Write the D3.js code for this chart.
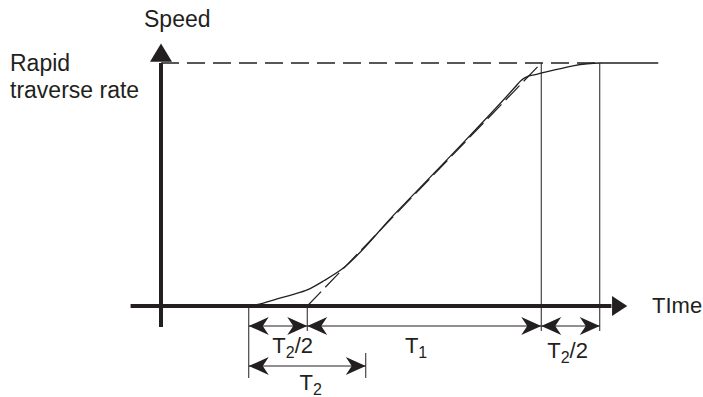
<!DOCTYPE html>
<html>
<head>
<meta charset="utf-8">
<title>Rapid traverse acceleration</title>
<script src="https://cdn.jsdelivr.net/npm/d3@7"></script>
<style>
  body { margin: 0; background: #fff; }
  svg { display: block; }
  text { font-family: "Liberation Sans", Arial, Helvetica, sans-serif; fill: #231f20; }
  .axis { stroke: #231f20; stroke-width: 4; }
  .thin { stroke: #231f20; stroke-width: 1; fill: none; }
  .curve { stroke: #231f20; stroke-width: 1.3; fill: none; }
  .dash { stroke: #231f20; stroke-width: 1.4; fill: none; stroke-dasharray: 18 8; }
  .head { fill: #231f20; }
</style>
</head>
<body>
<svg width="703" height="397"></svg>
<script>
// time in units of T2/2, speed as fraction of rapid traverse rate
var timeMarks = [6.5, 7.5];              // vertical guide lines up to rapid level
var idealRamp = [[2.5, 0], [6.5, 1]];    // linear acceleration (dashed)
var rapidLevel = [[0, 1], [7.5, 1]];     // rapid traverse rate (dashed)
var sCurve = [[1.5, 0], [1.75, 0.012], [2.0, 0.03], [2.25, 0.047], [2.5, 0.066],
              [2.8, 0.106], [3.1, 0.153], [4.0, 0.38], [5.0, 0.63], [6.05, 0.9],
              [6.15, 0.927], [6.25, 0.943], [6.4, 0.952], [7.5, 1], [8.5, 1]];
// extension lines below the axis: time, top px, bottom px
var extLines = [[1.5, 306, 378], [2.5, 306, 331], [3.5, 353, 378]];
// dimension arrows: from, to, row
var dims = [
  { from: 1.5, to: 2.5, row: 0 },
  { from: 2.5, to: 6.5, row: 0 },
  { from: 6.5, to: 7.5, row: 0 },
  { from: 1.5, to: 3.5, row: 1 }
];
// labels: main letter, subscript, suffix, centre time, baseline speed
var labels = [
  { main: "T", sub: "2", rest: "/2", t: 2.25, v: -0.194 },
  { main: "T", sub: "1", rest: "",   t: 4.36, v: -0.194 },
  { main: "T", sub: "2", rest: "",   t: 2.56, v: -0.346 },
  { main: "T", sub: "2", rest: "/2", t: 6.95, v: -0.214 }
];

var svg = d3.select("svg");
var x = d3.scaleLinear().domain([0, 8]).range([161, 629]);
var y = d3.scaleLinear().domain([0, 1]).range([306, 63]);
var rowY = [326, 366];

var line = d3.line().x(d => x(d[0])).y(d => y(d[1]));

// guide lines
svg.append("g").selectAll("line")
  .data(timeMarks)
  .enter().append("line")
  .attr("class", "thin")
  .attr("x1", d => x(d)).attr("x2", d => x(d))
  .attr("y1", y(1)).attr("y2", 331);

svg.append("g").selectAll("line")
  .data(extLines)
  .enter().append("line")
  .attr("class", "thin")
  .attr("x1", d => x(d[0])).attr("x2", d => x(d[0]))
  .attr("y1", d => d[1]).attr("y2", d => d[2]);

// dashed references
svg.append("path").attr("class", "dash").attr("d", line(rapidLevel));
svg.append("path").attr("class", "dash").attr("d", line(idealRamp))
  .style("stroke-dasharray", "20 6").style("stroke-width", 1.2);

// smoothed speed curve
svg.append("path").attr("class", "curve")
  .attr("d", d3.line().x(d => x(d[0])).y(d => y(d[1])).curve(d3.curveMonotoneX)(sCurve));

// axes
svg.append("line").attr("class", "axis")
  .attr("x1", x(-0.52)).attr("x2", x(7.7))
  .attr("y1", y(0)).attr("y2", y(0));
svg.append("path").attr("class", "head")
  .attr("d", `M${x(7.97)},${y(0)} L${x(7.71)},${y(0) - 10} L${x(7.71)},${y(0) + 10} Z`);
svg.append("line").attr("class", "axis")
  .attr("x1", x(0)).attr("x2", x(0))
  .attr("y1", y(-0.086)).attr("y2", y(1.0));
svg.append("path").attr("class", "head")
  .attr("d", `M${x(0)},${y(1.08)} L${x(0) - 11},${y(1.005)} L${x(0) + 11},${y(1.005)} Z`);

// dimension arrows
function head(tip, yy, dir) {
  var L = 20, H = 9, N = 6;
  return `M${tip},${yy} L${tip - dir * L},${yy - H} L${tip - dir * (L - N)},${yy} L${tip - dir * L},${yy + H} Z`;
}
var dg = svg.append("g").selectAll("g").data(dims).enter().append("g");
dg.append("line").attr("class", "thin")
  .attr("x1", d => x(d.from)).attr("x2", d => x(d.to))
  .attr("y1", d => rowY[d.row]).attr("y2", d => rowY[d.row]);
dg.append("path").attr("class", "head").attr("d", d => head(x(d.from), rowY[d.row], -1));
dg.append("path").attr("class", "head").attr("d", d => head(x(d.to), rowY[d.row], 1));

// T labels
var lt = svg.append("g").selectAll("text").data(labels).enter().append("text")
  .attr("x", d => x(d.t)).attr("y", d => y(d.v))
  .attr("text-anchor", "middle")
  .style("font-size", "22px");
lt.append("tspan").text(d => d.main);
lt.append("tspan").attr("dy", 5).style("font-size", "16px").text(d => d.sub);
lt.append("tspan").attr("dy", -5).text(d => d.rest);

// axis titles
svg.append("text").attr("x", 144).attr("y", 27).style("font-size", "23px").text("Speed");
svg.append("text").attr("x", 10).attr("y", 71).style("font-size", "23px").text("Rapid");
svg.append("text").attr("x", 10).attr("y", 98).style("font-size", "23px").text("traverse rate");
svg.append("text").attr("x", 652).attr("y", 313).style("font-size", "22px").text("TIme");
</script>
</body>
</html>
